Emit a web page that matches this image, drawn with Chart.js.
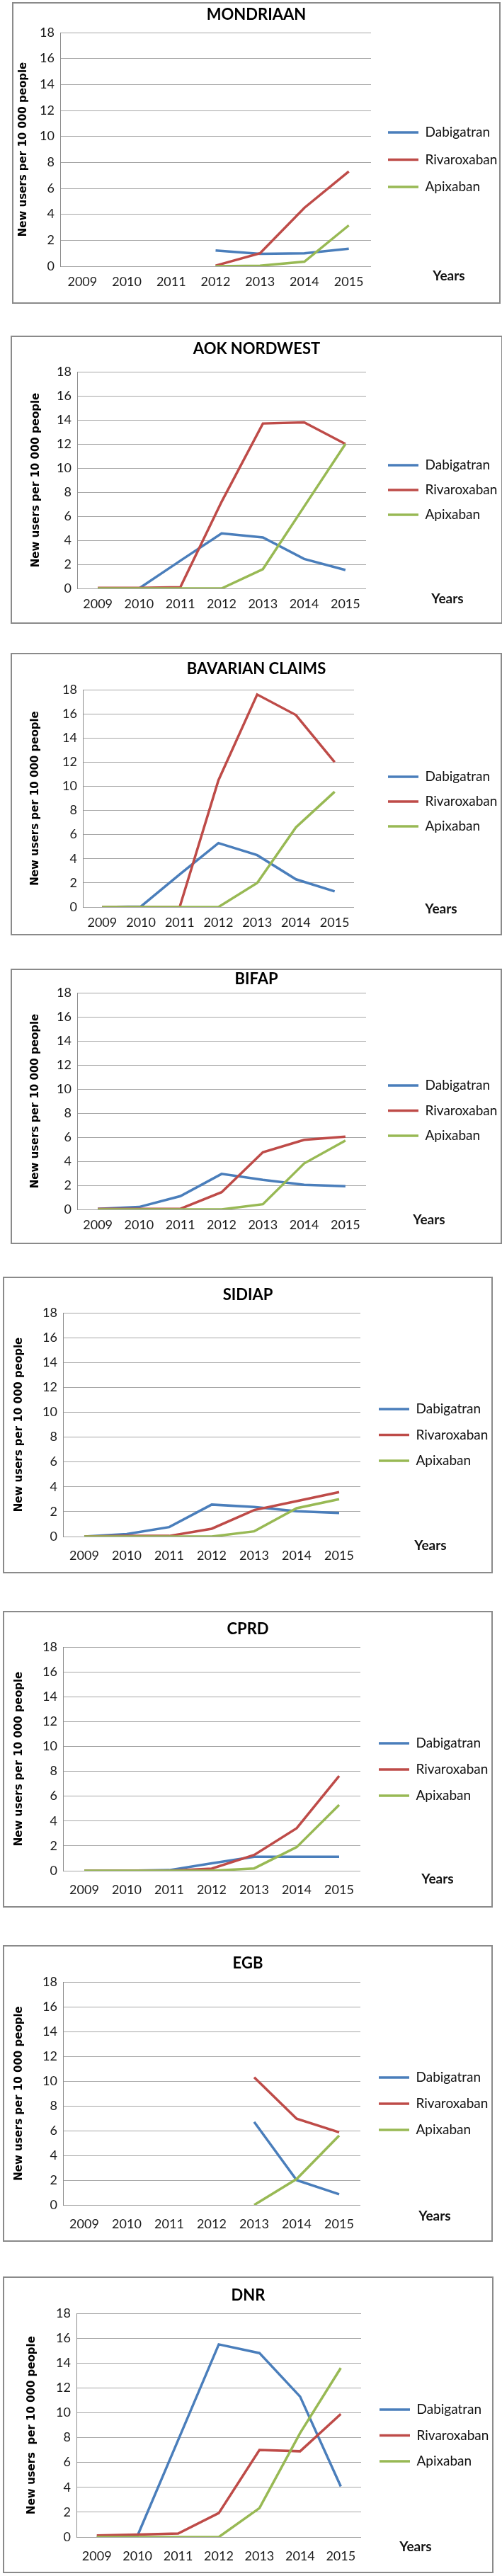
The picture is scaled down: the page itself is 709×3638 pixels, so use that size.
<!DOCTYPE html>
<html>
<head>
<meta charset="utf-8">
<script src="https://cdn.jsdelivr.net/npm/chart.js@4"></script>
<style>
  body { margin: 0; background: #fff; }
  #page { position: relative; width: 709px; height: 3638px; }
  .frame { position: absolute; border: 2px solid #8a8a8a; box-sizing: border-box; pointer-events: none; }
  canvas { position: absolute; }
  .years { position: absolute; font-family: Lato, sans-serif; font-weight: bold; font-size: 19px; color: #111;
           transform: translate(-50%, -50%); white-space: nowrap; }
</style>
</head>
<body>
<div id="page"></div>
<script>
// -------- data --------
var years = ['2009', '2010', '2011', '2012', '2013', '2014', '2015']
var seriesNames = ['Dabigatran', 'Rivaroxaban', 'Apixaban']
var seriesColors = ['#4a7ebb', '#be4b48', '#98b954']
var titles = ['MONDRIAAN', 'AOK NORDWEST', 'BAVARIAN CLAIMS', 'BIFAP', 'SIDIAP', 'CPRD', 'EGB', 'DNR']
var yTicksMax = 18
var yStep = 2

var mondriaanDabi = [null, null, null, 1.22, 0.95, 1.0, 1.35]
var mondriaanRiva = [null, null, null, 0.05, 1.0, 4.5, 7.3]
var mondriaanApix = [null, null, null, 0, 0.04, 0.35, 3.15]

var aokDabi = [0, 0, 2.3, 4.57, 4.24, 2.45, 1.53]
var aokRiva = [0.05, 0.05, 0.1, 7.2, 13.7, 13.8, 12.0]
var aokApix = [0, 0, 0, 0, 1.6, 6.8, 12.0]

var bavDabi = [0, 0.05, 2.7, 5.3, 4.3, 2.3, 1.3]
var bavRiva = [0, 0, 0, 10.5, 17.6, 15.9, 12.0]
var bavApix = [0, 0, 0, 0, 2.0, 6.6, 9.55]

var bifapDabi = [0.05, 0.2, 1.1, 2.95, 2.45, 2.05, 1.92]
var bifapRiva = [0.05, 0.05, 0.05, 1.43, 4.75, 5.78, 6.04]
var bifapApix = [0, 0, 0, 0, 0.43, 3.82, 5.72]

var sidiapDabi = [0, 0.2, 0.76, 2.57, 2.38, 2.03, 1.9]
var sidiapRiva = [0, 0.05, 0.05, 0.63, 2.13, 2.85, 3.57]
var sidiapApix = [0, 0, 0, 0, 0.42, 2.28, 3.0]

var cprdDabi = [0, 0, 0.05, 0.6, 1.12, 1.12, 1.12]
var cprdRiva = [0, 0, 0, 0.17, 1.27, 3.42, 7.63]
var cprdApix = [0, 0, 0, 0, 0.19, 1.9, 5.3]

var egbDabi = [null, null, null, null, 6.7, 2.0, 0.86]
var egbRiva = [null, null, null, null, 10.3, 6.96, 5.86]
var egbApix = [null, null, null, null, 0, 2.1, 5.6]

var dnrDabi = [0, 0.1, 7.8, 15.5, 14.8, 11.3, 4.07]
var dnrRiva = [0.13, 0.2, 0.28, 1.93, 7.0, 6.9, 9.9]
var dnrApix = [0, 0, 0, 0, 2.33, 8.37, 13.6]

var panelSeries = [
  [mondriaanDabi, mondriaanRiva, mondriaanApix],
  [aokDabi, aokRiva, aokApix],
  [bavDabi, bavRiva, bavApix],
  [bifapDabi, bifapRiva, bifapApix],
  [sidiapDabi, sidiapRiva, sidiapApix],
  [cprdDabi, cprdRiva, cprdApix],
  [egbDabi, egbRiva, egbApix],
  [dnrDabi, dnrRiva, dnrApix]
]
var yTitles = ['New users per 10 000 people', 'New users per 10 000 people', 'New users per 10 000 people',
  'New users per 10 000 people', 'New users per 10 000 people', 'New users per 10 000 people',
  'New users per 10 000 people', 'New users  per 10 000 people']

// -------- layout (page pixels) --------
// box: L T R B, plot: l t r b, title y, legend first y / gap / line x, Years x y, y-title x, x label gap
var layout = [
  { L: 17, T: 3,    R: 707, B: 429,  l: 85,  t: 46,   r: 524, b: 376,  ty: 21,   ly: 187,  lg: 38.5, lx: 548, yx: 634, yy: 388,  ytx: 33, xg: 22 },
  { L: 15, T: 474,  R: 710, B: 881,  l: 109, t: 525,  r: 517, b: 831,  ty: 493,  ly: 657,  lg: 35,   lx: 548, yx: 632, yy: 844,  ytx: 51, xg: 22 },
  { L: 15, T: 922,  R: 709, B: 1321, l: 117, t: 974,  r: 500, b: 1281, ty: 945,  ly: 1097, lg: 35,   lx: 548, yx: 623, yy: 1282, ytx: 50, xg: 22 },
  { L: 15, T: 1368, R: 709, B: 1757, l: 109, t: 1402, r: 517, b: 1708, ty: 1383, ly: 1533, lg: 35.5, lx: 548, yx: 606, yy: 1721, ytx: 50, xg: 22 },
  { L: 4,  T: 1803, R: 696, B: 2222, l: 89,  t: 1854, r: 509, b: 2170, ty: 1829, ly: 1990, lg: 36.5, lx: 535, yx: 608, yy: 2181, ytx: 27, xg: 27 },
  { L: 4,  T: 2275, R: 696, B: 2694, l: 89,  t: 2326, r: 509, b: 2642, ty: 2301, ly: 2462, lg: 37,   lx: 535, yx: 618, yy: 2652, ytx: 27, xg: 27 },
  { L: 4,  T: 2747, R: 696, B: 3166, l: 89,  t: 2799, r: 509, b: 3114, ty: 2773, ly: 2934, lg: 37,   lx: 535, yx: 614, yy: 3128, ytx: 27, xg: 27 },
  { L: 4,  T: 3215, R: 697, B: 3634, l: 108, t: 3267, r: 510, b: 3583, ty: 3242, ly: 3403, lg: 36.5, lx: 536, yx: 587, yy: 3595, ytx: 45, xg: 27 }
]

var tickFont = { family: 'Lato', size: 18 }
var legendFontSize = 19
var titleFontSize = 22
var yTitleFontSize = 15

// legend gets a fixed width and a fixed spot, like the Excel originals
var legendPlacer = {
  id: 'legendPlacer',
  beforeUpdate(chart) {
    var lg = chart.legend
    if (lg && !lg._patched) {
      var fit = lg.fit
      lg.fit = function () {
        fit.call(this)
        this.width = chart.options.plugins.legendPlacer.width
      }
      lg._patched = true
    }
  },
  beforeDraw(chart, args, opts) {
    var lg = chart.legend
    var pad = chart.options.plugins.legend.labels.padding
    lg.left = opts.x - pad
    lg.right = lg.left + opts.width
    lg.top = opts.y - pad - legendFontSize / 2
    lg.bottom = lg.top + 400
  }
}

var page = document.getElementById('page')

layout.forEach(function (p, i) {
  var W = p.R - p.L
  var H = p.B - p.T

  var cv = document.createElement('canvas')
  cv.width = W
  cv.height = H
  cv.style.left = p.L + 'px'
  cv.style.top = p.T + 'px'
  cv.style.width = W + 'px'
  cv.style.height = H + 'px'
  page.appendChild(cv)

  var frame = document.createElement('div')
  frame.className = 'frame'
  frame.style.left = p.L + 'px'
  frame.style.top = p.T + 'px'
  frame.style.width = W + 'px'
  frame.style.height = H + 'px'
  page.appendChild(frame)

  var yr = document.createElement('div')
  yr.className = 'years'
  yr.textContent = 'Years'
  yr.style.left = p.yx + 'px'
  yr.style.top = p.yy + 'px'
  page.appendChild(yr)

  var datasets = panelSeries[i].map(function (vals, k) {
    return {
      label: seriesNames[k],
      data: vals,
      borderColor: seriesColors[k],
      backgroundColor: seriesColors[k],
      borderWidth: 3.5,
      pointRadius: 0,
      tension: 0,
      fill: false,
      spanGaps: false,
      order: 2 - k
    }
  })

  var titleLine = titleFontSize * 1.2
  var titleTop = p.ty - p.T - titleLine / 2
  var titleBottom = (p.t - p.T) - titleTop - titleLine
  var legPad = p.lg - legendFontSize
  var xGapPad = p.xg - tickFont.size * 1.2 / 2

  new Chart(cv, {
    type: 'line',
    data: { labels: years, datasets: datasets },
    plugins: [legendPlacer],
    options: {
      responsive: false,
      animation: false,
      layout: { padding: 0 },
      plugins: {
        title: {
          display: true,
          text: titles[i],
          color: '#000',
          font: { family: 'Lato', size: titleFontSize, weight: 'bold' },
          padding: { top: titleTop, bottom: titleBottom }
        },
        legend: {
          position: 'right',
          align: 'start',
          labels: {
            usePointStyle: true,
            pointStyle: 'line',
            pointStyleWidth: 43,
            color: '#111',
            font: { family: 'Lato', size: legendFontSize },
            padding: legPad,
            sort: function (a, b) { return a.datasetIndex - b.datasetIndex }
          }
        },
        legendPlacer: { width: p.R - p.r, x: p.lx - p.L, y: p.ly - p.T },
        tooltip: { enabled: false }
      },
      scales: {
        x: {
          offset: true,
          grid: { display: false, drawTicks: false },
          border: { display: false },
          ticks: { font: tickFont, color: '#1a1a1a', padding: xGapPad, maxRotation: 0, autoSkip: false },
          afterFit: function (s) { s.height = p.B - p.b }
        },
        y: {
          min: 0,
          max: yTicksMax,
          ticks: { stepSize: yStep, font: tickFont, color: '#1a1a1a', padding: 8 },
          grid: { color: '#a6a6a6', lineWidth: 1, drawTicks: false },
          border: { color: '#8c8c8c', width: 1 },
          title: {
            display: true,
            text: yTitles[i],
            color: '#000',
            font: { family: 'DejaVu Sans', size: yTitleFontSize, weight: 'bold' },
            padding: { top: p.ytx - p.L - yTitleFontSize * 1.2 / 2, bottom: 0 }
          },
          afterFit: function (s) { s.width = p.l - p.L }
        }
      }
    }
  })
})
</script>
</body>
</html>
